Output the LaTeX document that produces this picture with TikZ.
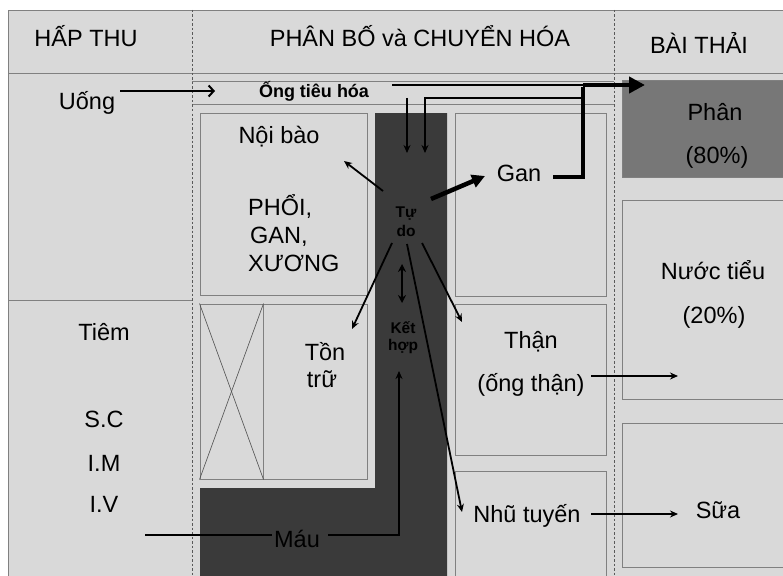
\documentclass[tikz,border=0pt]{standalone}
\usepackage{fontspec}
\setmainfont{Liberation Sans}
\usetikzlibrary{arrows.meta}
\definecolor{bg}{HTML}{D9D9D9}
\definecolor{darkcol}{HTML}{3A3A3A}
\definecolor{midcol}{HTML}{777777}
\definecolor{edgecol}{HTML}{808080}
\begin{document}
\begin{tikzpicture}[x=1pt,y=-1pt,
  box/.style={draw=edgecol, fill=bg, line width=1pt, inner sep=0pt},
  txt/.style={font=\fontsize{23.5}{27}\selectfont, inner sep=0pt, anchor=base},
  small/.style={font=\bfseries\fontsize{15.5}{18}\selectfont, inner sep=0pt, anchor=base},
  sep/.style={draw=edgecol, line width=0.9pt},
  dashsep/.style={draw=black!65, line width=0.9pt, dash pattern=on 2.5pt off 2pt},
  arr/.style={line width=1.8pt, -{Stealth[length=8pt,width=7pt]}},
  thinline/.style={line width=1.8pt}
]
\useasboundingbox (0,0) rectangle (783,575);
\fill[white] (0,0) rectangle (783,575);
\fill[bg] (8,10) rectangle (800,590);
% frame lines
\draw[sep] (8,590) -- (8,10) -- (800,10);
\draw[sep] (8,73) -- (800,73);
\draw[sep] (8,300) -- (192,300);
\draw[sep] (192,81) -- (614,81);
\draw[sep] (192,104.5) -- (614,104.5);
\draw[dashsep] (192,10) -- (192,590);
\draw[dashsep] (614,10) -- (614,590);
% dark blood column
\fill[darkcol] (200,590) -- (200,488) -- (375,488) -- (375,113) -- (447,113) -- (447,590) -- cycle;
% boxes
\node[box, minimum width=167pt, minimum height=182pt] (noibaobox) at (283.5,204) {};
\node[box, minimum width=63pt, minimum height=175pt] (xbox) at (231.5,391.5) {};
\node[box, minimum width=104pt, minimum height=175pt] (tonbox) at (315,391.5) {};
\node[box, minimum width=151pt, minimum height=183pt] (ganbox) at (530.5,204.5) {};
\node[box, minimum width=151pt, minimum height=151pt] (thanbox) at (530.5,379.5) {};
\node[box, minimum width=151pt, minimum height=114pt] (nhubox) at (530.5,528) {};
\node[box, fill=midcol, minimum width=168pt, minimum height=96pt] (phanbox) at (706,129) {};
\node[box, minimum width=168pt, minimum height=199pt] (nuocbox) at (706,299.5) {};
\node[box, minimum width=168pt, minimum height=144pt] (suabox) at (706,495) {};
\draw[draw=black!70, line width=0.6pt] (xbox.north west) -- (xbox.south east);
\draw[draw=black!70, line width=0.6pt] (xbox.north east) -- (xbox.south west);
% headers
\node[txt] (h1) at (86,47) {HẤP THU};
\node[txt] (h2) at (420,47) {PHÂN BỐ và CHUYỂN HÓA};
\node[txt] (h3) at (699,54) {BÀI THẢI};
% texts
\node[txt] (uong) at (87,110) {Uống};
\node[font=\bfseries\fontsize{18}{21}\selectfont, inner sep=0pt, anchor=base] (ong) at (314,98) {Ống tiêu hóa};
\node[txt] (noibao) at (279,143) {Nội bào};
\node[txt, anchor=base west] (phoi) at (248,215) {PHỔI,};
\node[txt, anchor=base west] (gan2) at (250,243) {GAN,};
\node[txt, anchor=base west] (xuong) at (248,271) {XƯƠNG};
\node[txt] (gan) at (519,181) {Gan};
\node[small] (tu) at (406,217) {Tự};
\node[small] (do) at (406,236) {do};
\node[small] (ket) at (403,333) {Kết};
\node[small] (hop) at (403,350) {hợp};
\node[txt] (ton) at (325,360) {Tồn};
\node[txt] (tru) at (322,387) {trữ};
\node[txt] (mau) at (297,547) {Máu};
\node[txt] (than) at (531,348) {Thận};
\node[txt] (ongthan) at (531,391) {(ống thận)};
\node[txt] (nhu) at (527,522) {Nhũ tuyến};
\node[txt] (sua) at (718,518) {Sữa};
\node[txt] (phan) at (715,120) {Phân};
\node[txt] (p80) at (717,163) {(80\%)};
\node[txt] (nuoc) at (713,279) {Nước tiểu};
\node[txt] (p20) at (714,323) {(20\%)};
\node[txt] (tiem) at (104,340) {Tiêm};
\node[txt] (sc) at (104,427) {S.C};
\node[txt] (im) at (104,471) {I.M};
\node[txt] (iv) at (104,512) {I.V};
% connector coordinates
\coordinate (uA) at (120,91);
\coordinate (uB) at (215,91);
\coordinate (oA) at (392,85);
\coordinate (jA) at (583,85);
\coordinate (pB) at (645,85);
\coordinate (gA) at (553,177);
\coordinate (gJ) at (583,177);
\coordinate (bA) at (583,98);
\coordinate (bB) at (425,98);
\coordinate (bC) at (425,153);
\coordinate (dA) at (407,98);
\coordinate (dB) at (407,153);
\coordinate (t1A) at (383,191);
\coordinate (t1B) at (344,161);
\coordinate (t2A) at (431,199);
\coordinate (t2B) at (485,176);
\coordinate (t3A) at (392,243);
\coordinate (t3B) at (352,329);
\coordinate (t4A) at (407,244);
\coordinate (t4B) at (462,512);
\coordinate (t5A) at (422,243);
\coordinate (t5B) at (462,322);
\coordinate (kA) at (402,264);
\coordinate (kB) at (402,303);
\coordinate (mA) at (145,535);
\coordinate (mB) at (272,535);
\coordinate (mC) at (328,535);
\coordinate (mD) at (399,535);
\coordinate (mE) at (399,371);
\coordinate (thA) at (591,376);
\coordinate (thB) at (678,376);
\coordinate (nhA) at (591,514);
\coordinate (nhB) at (678,514);
% connectors
\draw[line width=2pt, -{Straight Barb[length=5pt,width=11pt]}] (uA) -- (uB);
\draw[line width=2.6pt] (oA) -- (jA);
\draw[line width=4.5pt] (gA) -- (gJ) -- ([yshift=-2pt]jA);
\draw[line width=4pt, -{Triangle[length=16pt,width=16pt]}] (jA) -- (pB);
\draw[arr] (bA) -- (bB) -- (bC);
\draw[arr] (dA) -- (dB);
\draw[arr] (t1A) -- (t1B);
\draw[line width=4.5pt, -{Triangle[length=13pt,width=13pt]}] (t2A) -- (t2B);
\draw[arr] (t3A) -- (t3B);
\draw[arr] (t4A) -- (t4B);
\draw[arr] (t5A) -- (t5B);
\draw[line width=2.2pt, {Stealth[length=8pt,width=8pt]}-{Stealth[length=8pt,width=8pt]}] (kA) -- (kB);
\draw[thinline] (mA) -- (mB);
\draw[arr] (mC) -- (mD) -- (mE);
\draw[arr] (thA) -- (thB);
\draw[arr] (nhA) -- (nhB);
\end{tikzpicture}
\end{document}
